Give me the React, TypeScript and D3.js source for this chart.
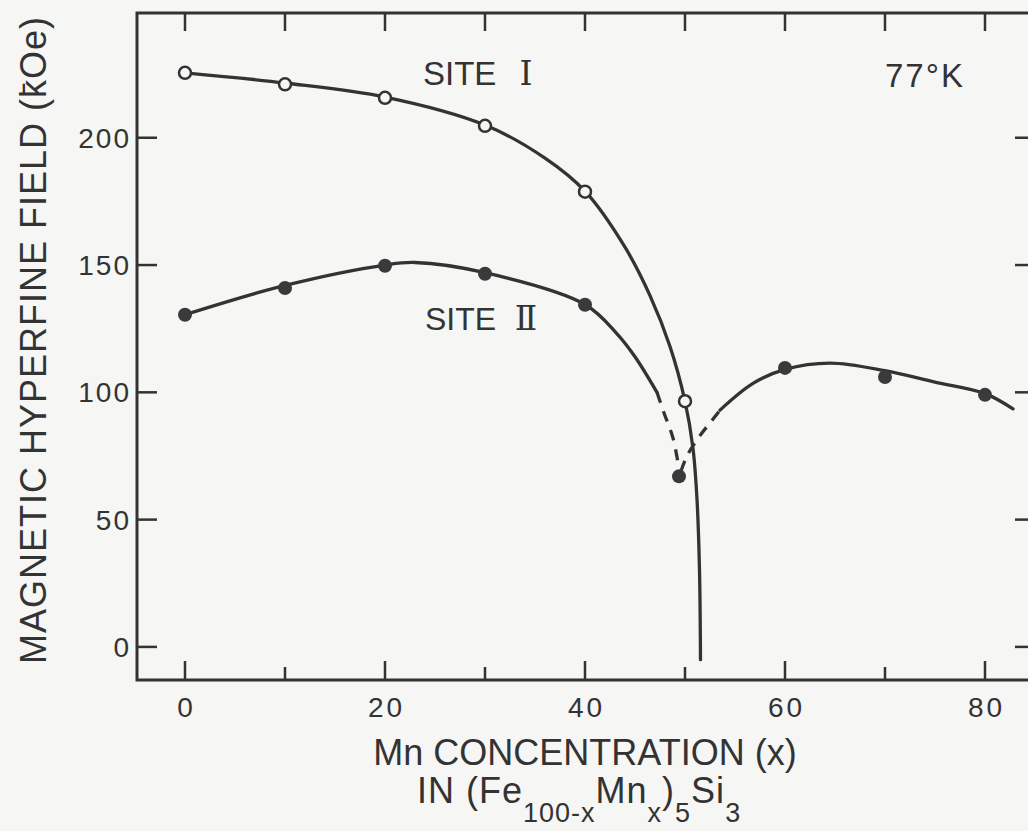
import React from "react";
import * as d3 from "d3";

// Measured hyperfine fields at 77 K (kOe) versus Mn concentration x
const siteIX = [0, 10, 20, 30, 40, 50];
const siteIField = [225.5, 221, 215.7, 204.7, 178.8, 96.5];

const siteIIX = [0, 10, 20, 30, 40, 49.4, 60, 70, 80];
const siteIIField = [130.5, 141, 149.7, 146.6, 134.4, 67, 109.6, 106, 99];

// Hand-drawn guide curves through the data: [x, field]
const siteICurve: [number, number][] = [
  [0, 225.5], [10, 221.5], [20, 216], [30, 205], [36, 192], [40, 179], [44, 157],
  [46.5, 138], [48.5, 118], [50, 96.5], [50.8, 78], [51.2, 58], [51.45, 30], [51.55, -5],
];
const siteIILeftSolid: [number, number][] = [
  [0, 130.5], [10, 142], [20, 150], [23, 151], [30, 147], [40, 134.5],
  [43.2, 123], [45, 114], [47.2, 100],
];
const siteIILeftDashed: [number, number][] = [
  [47.2, 100], [47.8, 93], [48.8, 82], [49.4, 70],
];
const siteIIRightDashed: [number, number][] = [
  [49.6, 69], [50.2, 75], [51.5, 83], [52.5, 88], [53.5, 93],
];
const siteIIRightSolid: [number, number][] = [
  [53.5, 93], [56.8, 103.5], [60, 109], [64.5, 111.5], [70, 108.5],
  [75, 104], [80, 99.5], [82.8, 93.5],
];

const xMajorTicks = [0, 20, 40, 60, 80];
const xMinorTicks = [10, 30, 50, 70];
const yTicks = [0, 50, 100, 150, 200];

const W = 1028;
const H = 831;
const INK = "#333333";
const BG = "#f6f6f4";
const SANS = "'Liberation Sans', Arial, sans-serif";

export default function App() {
  const x = d3.scaleLinear().domain([-4.8, 85]).range([137, 1035]);
  const y = d3.scaleLinear().domain([-13, 249]).range([680, 13]);

  const line = d3
    .line<[number, number]>()
    .x((d) => x(d[0]))
    .y((d) => y(d[1]))
    .curve(d3.curveCatmullRom.alpha(0.5));

  const [x0, x1] = x.range();
  const [yb, yt] = y.range();

  return (
    <svg
      width={W}
      height={H}
      style={{ position: "absolute", left: 0, top: 0, background: BG }}
      fontFamily={SANS}
    >
      <rect x={0} y={0} width={W} height={H} fill={BG} />

      {/* frame */}
      <rect x={x0} y={yt} width={x1 - x0} height={yb - yt} fill="none" stroke={INK} strokeWidth={3} />

      {/* top ticks */}
      {[...xMajorTicks, ...xMinorTicks].map((t) => (
        <line key={"tt" + t} x1={x(t)} x2={x(t)} y1={yt} y2={yt + 18} stroke={INK} strokeWidth={2.5} />
      ))}
      {/* bottom ticks */}
      {xMajorTicks.map((t) => (
        <line key={"bt" + t} x1={x(t)} x2={x(t)} y1={yb} y2={yb - 19} stroke={INK} strokeWidth={2.5} />
      ))}
      {xMinorTicks.map((t) => (
        <line key={"bm" + t} x1={x(t)} x2={x(t)} y1={yb} y2={yb - 13} stroke={INK} strokeWidth={2.5} />
      ))}
      {/* left / right ticks */}
      {yTicks.map((t) => (
        <g key={"yt" + t}>
          <line x1={x0} x2={x0 + 20} y1={y(t)} y2={y(t)} stroke={INK} strokeWidth={2.5} />
          <line x1={x1} x2={x1 - 20} y1={y(t)} y2={y(t)} stroke={INK} strokeWidth={2.5} />
        </g>
      ))}

      {/* tick labels */}
      {xMajorTicks.map((t) => (
        <text key={"xl" + t} x={x(t) + 1.5} y={717} textAnchor="middle" fontSize={28} letterSpacing={3} fill={INK}>
          {t}
        </text>
      ))}
      {yTicks.map((t) => (
        <text key={"yl" + t} x={131} y={y(t) + 10} textAnchor="end" fontSize={28} letterSpacing={2} fill={INK}>
          {t}
        </text>
      ))}

      {/* axis titles */}
      <text x={585} y={765} textAnchor="middle" fontSize={36} fill={INK}>
        Mn CONCENTRATION (x)
      </text>
      <text x={417} y={803} fontSize={36} fill={INK} letterSpacing={1}>
        IN (Fe
        <tspan fontSize={27} dy={19}>100-x</tspan>
        <tspan dy={-19}>Mn</tspan>
        <tspan fontSize={27} dy={19}>x</tspan>
        <tspan dy={-19}>)</tspan>
        <tspan fontSize={27} dy={19}>5</tspan>
        <tspan dy={-19}>Si</tspan>
        <tspan fontSize={27} dy={19}>3</tspan>
      </text>
      <text
        transform={`translate(46, 340) rotate(-90)`}
        textAnchor="middle"
        fontSize={36}
        letterSpacing={1}
        fill={INK}
      >
        MAGNETIC HYPERFINE FIELD (k{"\u0304"}Oe)
      </text>

      {/* annotations */}
      <text x={423} y={85} fontSize={33} fill={INK}>SITE</text>
      <text x={526} y={85} fontSize={33} fill={INK} textAnchor="middle" fontFamily="'DejaVu Serif', serif">
        {"\u2160"}
      </text>
      <text x={425} y={330} fontSize={32} fill={INK}>SITE</text>
      <text x={526} y={330} fontSize={33} fill={INK} textAnchor="middle" fontFamily="'DejaVu Serif', serif">
        {"\u2161"}
      </text>
      <text x={885} y={87} fontSize={33} fill={INK} letterSpacing={2}>
        77°K
      </text>

      {/* guide curves */}
      <g fill="none" stroke={INK} strokeWidth={3.3} strokeLinecap="round">
        <path d={line(siteICurve) ?? ""} />
        <path d={line(siteIILeftSolid) ?? ""} />
        <path d={line(siteIILeftDashed) ?? ""} strokeDasharray="11 9" strokeLinecap="butt" />
        <path d={line(siteIIRightDashed) ?? ""} strokeDasharray="11 9" strokeLinecap="butt" />
        <path d={line(siteIIRightSolid) ?? ""} />
      </g>

      {/* Site II: filled circles */}
      {siteIIX.map((v, i) => (
        <circle key={"s2" + i} cx={x(v)} cy={y(siteIIField[i])} r={7} fill="#3a3a3a" />
      ))}
      {/* Site I: open circles */}
      {siteIX.map((v, i) => (
        <circle key={"s1" + i} cx={x(v)} cy={y(siteIField[i])} r={6} fill={BG} stroke={INK} strokeWidth={2.5} />
      ))}
    </svg>
  );
}
